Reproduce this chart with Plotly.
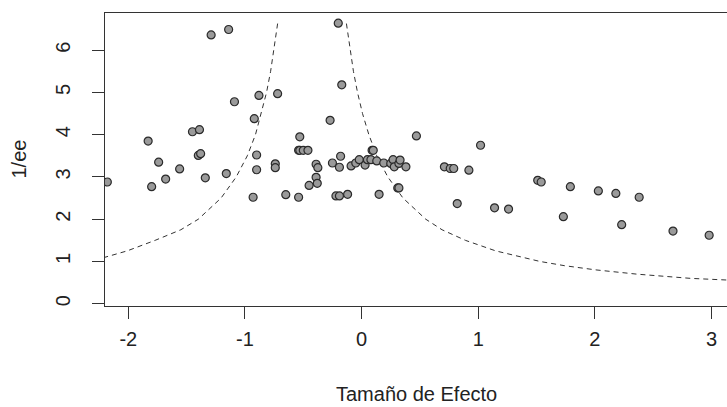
import plotly.graph_objects as go

# Effect sizes (x) and precision 1/SE (y)
efecto = [-2.18, -1.83, -1.74, -1.56, -1.68, -1.80, -1.45, -1.39, -1.40, -1.38,
          -1.34, -1.16, -1.29, -1.14, -1.09, -0.92, -0.88, -0.72, -0.90, -0.90,
          -0.93, -0.74, -0.74, -0.65, -0.54, -0.53, -0.54, -0.53, -0.50, -0.46,
          -0.39, -0.375, -0.39, -0.38, -0.45, -0.27, -0.20, -0.17, -0.25, -0.19,
          -0.18, -0.22, -0.19, -0.12, -0.09, -0.05, -0.02, 0.03, 0.05, 0.08,
          0.09, 0.10, 0.13, 0.15, 0.19, 0.25, 0.27, 0.28, 0.32, 0.33,
          0.38, 0.31, 0.32, 0.47, 0.71, 0.76, 0.79, 0.92, 1.02, 0.82,
          1.14, 1.26, 1.51, 1.54, 1.79, 1.73, 2.03, 2.18, 2.38, 2.23,
          2.67, 2.98]
precision = [2.88, 3.85, 3.35, 3.19, 2.95, 2.77, 4.07, 4.12, 3.51, 3.55,
             2.98, 3.08, 6.36, 6.49, 4.78, 4.38, 4.93, 4.97, 3.52, 3.17,
             2.52, 3.31, 3.22, 2.58, 2.52, 3.95, 3.63, 3.63, 3.63, 3.63,
             3.30, 3.22, 2.99, 2.85, 2.80, 4.34, 6.64, 5.18, 3.33, 3.23,
             3.49, 2.55, 2.55, 2.59, 3.26, 3.33, 3.41, 3.28, 3.41, 3.41,
             3.63, 3.63, 3.38, 2.59, 3.33, 3.32, 3.41, 3.24, 3.32, 3.40,
             3.24, 2.74, 2.74, 3.97, 3.24, 3.20, 3.20, 3.16, 3.75, 2.37,
             2.27, 2.24, 2.92, 2.88, 2.77, 2.06, 2.67, 2.61, 2.52, 1.87,
             1.72, 1.62]

# Funnel limits (dashed lines)
funnel_left_x = [-0.72, -0.75, -0.78, -0.815, -0.86, -0.91, -0.98, -1.075, -1.205,
                 -1.40, -1.55, -1.77, -2.01, -2.20]
funnel_left_y = [6.63, 6.0, 5.5, 5.0, 4.5, 4.0, 3.5, 3.0, 2.5,
                 2.0, 1.75, 1.5, 1.25, 1.1]
funnel_right_x = [-0.13, -0.10, -0.07, -0.035, 0.008, 0.0625, 0.13, 0.225, 0.355,
                  0.55, 0.69, 0.89, 1.15, 1.53, 1.74, 2.01, 2.36, 2.82, 3.14]
funnel_right_y = [6.63, 6.0, 5.5, 5.0, 4.5, 4.0, 3.5, 3.0, 2.5,
                  2.0, 1.75, 1.5, 1.25, 1.0, 0.9, 0.8, 0.7, 0.6, 0.56]

x_ticks = [-2, -1, 0, 1, 2, 3]
y_ticks = [0, 1, 2, 3, 4, 5, 6]

FONT = "Liberation Sans, Arial, sans-serif"
INK = "#222222"
FS = 20

fig = go.Figure()
dash_style = dict(color="#333333", width=1, dash="5px,4px")
fig.add_trace(go.Scatter(x=funnel_left_x, y=funnel_left_y, mode="lines",
                         line=dash_style, hoverinfo="skip", showlegend=False))
fig.add_trace(go.Scatter(x=funnel_right_x, y=funnel_right_y, mode="lines",
                         line=dash_style, hoverinfo="skip", showlegend=False))
fig.add_trace(go.Scatter(x=efecto, y=precision, mode="markers",
                         marker=dict(size=8, color="#9a9a9a",
                                     line=dict(color="#2a2a2a", width=1.2)),
                         showlegend=False))

fig.update_layout(
    width=727, height=407,
    margin=dict(l=105, r=0, t=13, b=101, autoexpand=False),
    paper_bgcolor="white", plot_bgcolor="white",
    font=dict(family=FONT, size=FS, color=INK),
    xaxis=dict(range=[-2.2, 3.133], tickvals=x_ticks, ticktext=[str(v) for v in x_ticks],
               showgrid=False, zeroline=False, showline=True, mirror=True,
               linecolor="#333333", linewidth=1.3, automargin=False,
               ticks="outside", ticklen=12, tickwidth=1, tickcolor="#333333",
               ticklabelstandoff=3),
    yaxis=dict(range=[-0.054, 6.88], tickvals=y_ticks, ticktext=[str(v) for v in y_ticks],
               showgrid=False, zeroline=False, showline=True,
               linecolor="#333333", linewidth=1.3, automargin=False,
               ticks="outside", ticklen=12, tickwidth=1, tickcolor="#333333",
               tickangle=-90, ticklabelstandoff=14),
    annotations=[
        dict(text="Tamaño de Efecto", xref="paper", yref="paper", x=0.5, y=0,
             yshift=-88, showarrow=False, yanchor="middle",
             font=dict(family=FONT, size=FS, color=INK)),
        dict(text="1/ee", xref="paper", yref="paper", x=0, y=0.5,
             xshift=-87, textangle=-90, showarrow=False, xanchor="center",
             font=dict(family=FONT, size=FS, color=INK)),
    ],
)

fig.write_html("out.html", config={"displayModeBar": False},
               post_script="document.body.style.margin='0';document.body.style.overflow='hidden';")
